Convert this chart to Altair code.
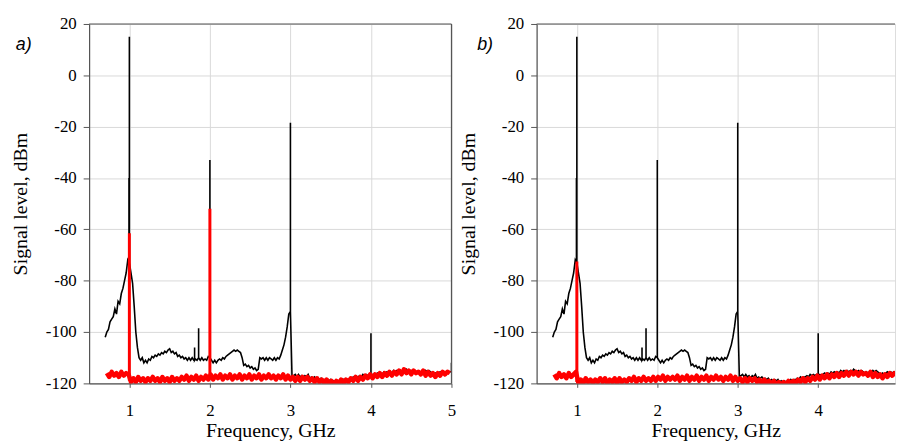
import altair as alt
import pandas as pd

# ---------------- data ----------------
# black trace: level (dBm) sampled every 0.02 GHz, first row starts at 0.70 GHz (10 per row = 0.2 GHz)
BLACK_START, BLACK_STEP = 0.70, 0.02
BLACK_ROWS = [
    [-102, -100, -99, -96, -95, -94, -91, -93, -88, -89],          # 0.70
    [-85, -83, -80, -77, -72, -73, -77, -81, -90, -100],            # 0.90
    [-106, -110, -111, -110, -112, -111, -112, -110.5, -111, -109.5],  # 1.10
    [-110, -109, -109.5, -108.5, -109, -108, -108.5, -107.5, -108, -107],  # 1.30
    [-106.5, -108, -107.5, -108.5, -108, -109.5, -109, -110, -109.5, -110.5],  # 1.50
    [-110, -111, -110, -111, -110, -111, -110.5, -111, -110, -111],  # 1.70
    [-110, -111, -110.5, -111, -109.5, -110, -111, -112, -111, -112],  # 1.90
    [-111, -110.5, -111, -110, -110.5, -109.5, -109, -108.5, -108, -107.5],  # 2.10
    [-107, -107.5, -107, -107.5, -108, -110, -113, -112.5, -113.5, -113],  # 2.30
    [-114, -113.5, -114.5, -114, -115, -114.5, -110, -110.5, -110, -111],  # 2.50
    [-110, -111, -110, -110.5, -111, -110, -111, -110, -110.5, -109],  # 2.70
    [-107, -105, -102, -98, -93, -92, -117.5, -117, -116.5, -117.5],  # 2.90
    [-116.5, -117.5, -117, -118, -117, -117.5, -116.5, -118, -117.5, -118],  # 3.10
    [-117.5, -118.5, -118, -118.5, -118, -119, -118.5, -119, -118.5, -119],  # 3.30
    [-118.5, -119.5, -119, -119.5, -119, -119.5, -119, -119.5, -118.5, -119],  # 3.50
    [-118.5, -118.5, -118, -118.5, -117.5, -118, -117.5, -117.5, -117, -117.5],  # 3.70
    [-116.5, -117, -116.5, -117, -116.5, -117, -116.5, -117, -116.5, -116],  # 3.90
    [-116.5, -116, -116.5, -115.5, -116, -115.5, -116, -115.5, -116, -115],  # 4.10
    [-115.5, -115, -115.5, -115, -115.5, -115, -115.5, -114.5, -115, -115.5],  # 4.30
    [-115, -115.5, -115, -115.5, -116, -115.5, -116, -115.5, -116, -115],  # 4.50
    [-115.5, -115, -115.5, -116, -116.5, -116, -116.5, -116, -115.5, -116],  # 4.70
    [-115.5, -116, -115.5, -116, -115.5, -115.5],  # 4.90
]
BLACK_SPIKES = [(0.995, -40), (1.0, 15), (1.81, -106), (1.86, -98.5), (2.0, -33),
                (3.0, -18.5), (4.0, -100.5), (5.0, -112)]

# red traces: level sampled every 0.03 GHz starting at 0.72 GHz (10 per row = 0.3 GHz)
RED_START, RED_STEP = 0.72, 0.03
RED_A_ROWS = [
    [-116, -117.5, -115.5, -117, -116, -117.5, -115.5, -117, -116, -116.5],  # 0.72
    [-119.5, -118, -119.5, -117.5, -119, -118, -119.5, -118, -119, -117.5],  # 1.02
    [-119, -118, -119.5, -117.5, -119, -118, -119.5, -117.5, -119, -118],  # 1.32
    [-119, -117.5, -118.5, -117, -119, -117.5, -118.5, -117, -119, -117.5],  # 1.62
    [-118.5, -117, -118.5, -116.5, -118.5, -117, -118, -116.5, -118.5, -117],  # 1.92
    [-118, -116.5, -118.5, -117, -118, -116.5, -118.5, -117, -118, -116.5],  # 2.22
    [-118.5, -117, -118, -116.5, -118.5, -117, -118, -116.5, -118, -117],  # 2.52
    [-118.5, -117, -118, -116.5, -118.5, -117, -118.5, -117.5, -119, -117.5],  # 2.82
    [-119, -117.5, -118.5, -117.5, -119, -118, -119.5, -118, -119.5, -118.5],  # 3.12
    [-120, -118.5, -120, -119, -120.5, -119, -120, -118.5, -120, -118.5],  # 3.42
    [-119.5, -118, -119, -117.5, -119, -117.5, -118.5, -117, -118, -116.5],  # 3.72
    [-118, -116.5, -117.5, -116, -117.5, -116, -117, -115.5, -117, -115.5],  # 4.02
    [-116.5, -115, -116.5, -114.5, -116, -115, -116.5, -115, -116, -115.5],  # 4.32
    [-116.5, -115, -117, -115.5, -117, -116, -117.5, -116, -117, -115.5],  # 4.62
    [-116.5, -115.5, -116],  # 4.92
]
# red spikes: (frequency, level at foot, level at peak)
RED_A_SPIKES = [(1.0, -119, -61.5), (2.0, -118, -52)]

RED_B_ROWS = [
    [-116.5, -118, -116, -117.5, -116.5, -118, -116, -117.5, -116.5, -115.5],  # 0.72
    [-120, -118.5, -120, -118, -119.5, -118.5, -120, -118.5, -119.5, -118],  # 1.02
    [-119.5, -118, -120, -118.5, -119.5, -118, -120, -118, -119.5, -118.5],  # 1.32
    [-119.5, -118, -119, -117.5, -119.5, -118, -119, -117.5, -119, -118],  # 1.62
    [-119, -117.5, -119, -117.5, -118.5, -117, -119, -117.5, -118.5, -117.5],  # 1.92
    [-118.5, -117, -119, -117.5, -118.5, -117, -119, -117.5, -118.5, -117],  # 2.22
    [-119, -117.5, -118.5, -117, -119, -117.5, -118.5, -117, -118.5, -117.5],  # 2.52
    [-119, -117.5, -118.5, -117, -119, -117.5, -119, -118, -119.5, -118],  # 2.82
    [-119.5, -118, -119, -118, -119.5, -118.5, -120, -118.5, -120, -119],  # 3.12
    [-120.5, -119, -120.5, -119.5, -120.5, -119.5, -120.5, -119, -120, -119],  # 3.42
    [-120, -118.5, -119.5, -118, -119.5, -118, -119, -117.5, -118.5, -117],  # 3.72
    [-118.5, -117, -118, -116.5, -118, -116.5, -117.5, -116, -117.5, -116],  # 4.02
    [-117, -115.5, -117, -115.5, -116.5, -115.5, -117, -115.5, -116.5, -116],  # 4.32
    [-117, -115.5, -117.5, -116, -117.5, -116.5, -118, -116.5, -117.5, -116],  # 4.62
    [-117, -116, -116.5],  # 4.92
]
RED_B_SPIKES = [(1.0, -119.5, -72.5)]

X_TICKS_A = [1, 2, 3, 4, 5]
X_TICKS_B = [1, 2, 3, 4]
Y_TICKS = [-120, -100, -80, -60, -40, -20, 0, 20]


def build(start, step, rows, spikes):
    levels = [v for r in rows for v in r]
    pts = [(round(start + step * i, 4), 0, v) for i, v in enumerate(levels)]
    freqs = [p[0] for p in pts]
    for f, peak in spikes:
        idx = min(range(len(freqs)), key=lambda i: abs(freqs[i] - f))
        base = levels[idx]
        pts += [(f, 1, base), (f, 2, peak), (f, 3, base)]
    pts.sort(key=lambda p: (p[0], p[1]))
    return pd.DataFrame({"f": [p[0] for p in pts], "v": [p[2] for p in pts],
                         "o": list(range(len(pts)))})


def spikes_df(spikes):
    return pd.DataFrame({"f": [s[0] for s in spikes], "lo": [s[1] for s in spikes],
                         "hi": [s[2] for s in spikes]})


black = build(BLACK_START, BLACK_STEP, BLACK_ROWS, BLACK_SPIKES)
red_a = build(RED_START, RED_STEP, RED_A_ROWS, [])
red_b = build(RED_START, RED_STEP, RED_B_ROWS, [])

SERIF = "Liberation Serif"
DARK = "#555555"
GRID = "#d9d9d9"
RED = "#ff0000"
H = 363


def panel(red_df, red_sp, xmax, width, xticks, label, label_x, right_border):
    xs = alt.Scale(domain=[0.5, xmax], nice=False, zero=False)
    ys = alt.Scale(domain=[-120, 20], nice=False, zero=False)
    xax = alt.Axis(values=xticks, format="d", title="Frequency, GHz", grid=True,
                   gridColor=GRID, gridWidth=1, domainColor=DARK, domainWidth=1.2,
                   tickColor=DARK, tickSize=4, labelPadding=15, labelFont=SERIF,
                   labelFontSize=17, labelColor="black", titleFont=SERIF,
                   titleFontSize=20, titleFontWeight="normal", titleColor="black",
                   titlePadding=3, labelFlush=False)
    yax = alt.Axis(values=Y_TICKS, labelExpr="'' + datum.value", title="Signal level, dBm",
                   grid=True, gridColor=GRID, gridWidth=1, domainColor=DARK,
                   domainWidth=1.2, tickColor=DARK, tickSize=6, labelPadding=7,
                   labelFont=SERIF, labelFontSize=17, labelColor="black",
                   titleFont=SERIF, titleFontSize=20, titleFontWeight="normal",
                   titleColor="black", titlePadding=15, labelFlush=False)
    bl = alt.Chart(black).mark_line(color="black", strokeWidth=1.6, clip=True).encode(
        x=alt.X("f:Q", scale=xs, axis=xax),
        y=alt.Y("v:Q", scale=ys, axis=yax),
        order="o:Q")
    rd = alt.Chart(red_df).mark_line(color=RED, strokeWidth=4.5, strokeJoin="round",
                                     clip=True).encode(
        x=alt.X("f:Q", scale=xs),
        y=alt.Y("v:Q", scale=ys),
        order="o:Q")
    rs = alt.Chart(spikes_df(red_sp)).mark_rule(color=RED, strokeWidth=3, clip=True).encode(
        x=alt.X("f:Q", scale=xs),
        y=alt.Y("lo:Q", scale=ys),
        y2="hi:Q")
    one = pd.DataFrame({"t": [label]})
    top = alt.Chart(one).mark_rule(color=DARK, strokeWidth=1.2).encode(
        x=alt.value(0), x2=alt.value(width), y=alt.value(0))
    txt = alt.Chart(one).mark_text(font="Liberation Sans", fontSize=18, fontStyle="italic",
                                   align="left", baseline="middle", color="black").encode(
        text="t:N", x=alt.value(label_x), y=alt.value(21))
    layers = [bl, rd, rs, top, txt]
    if right_border:
        layers.append(alt.Chart(one).mark_rule(color=DARK, strokeWidth=1.2).encode(
            x=alt.value(width), y=alt.value(0), y2=alt.value(H)))
    return alt.layer(*layers).properties(width=width, height=H)


pa = panel(red_a, RED_A_SPIKES, 5.0, 366, X_TICKS_A, "a)", -74, True)
pb = panel(red_b, RED_B_SPIKES, 4.955, 362, X_TICKS_B, "b)", -60, False)

chart = alt.hconcat(pa, pb, spacing=1).properties(
    padding={"left": 10, "top": 12, "right": 0, "bottom": 0}
).configure_view(stroke=None).configure(background="white")

chart.save("out.html", embed_options={"renderer": "svg", "actions": False})
